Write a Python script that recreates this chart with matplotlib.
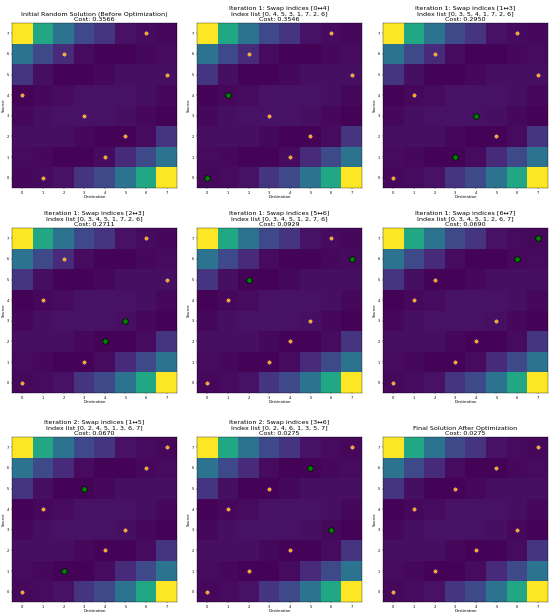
"""Swap-based optimisation of an 8x8 assignment, shown step by step."""

from matplotlib import pyplot as plt
import numpy as np

# cost / weight matrix, rows = source (0 at bottom), cols = destination
cost_matrix = np.array([
    [0.02, 0.03, 0.05, 0.15, 0.22, 0.38, 0.60, 1.00],
    [0.03, 0.02, 0.01, 0.01, 0.03, 0.12, 0.22, 0.38],
    [0.04, 0.04, 0.04, 0.02, 0.01, 0.01, 0.03, 0.15],
    [0.02, 0.04, 0.05, 0.05, 0.05, 0.04, 0.02, 0.01],
    [0.01, 0.02, 0.03, 0.05, 0.05, 0.05, 0.04, 0.02],
    [0.15, 0.04, 0.01, 0.01, 0.02, 0.04, 0.04, 0.04],
    [0.38, 0.22, 0.12, 0.03, 0.01, 0.01, 0.02, 0.03],
    [1.00, 0.60, 0.38, 0.22, 0.15, 0.05, 0.03, 0.02],
])

titles = [
    "Initial Random Solution (Before Optimization)\nCost: 0.3566",
    "Iteration 1: Swap indices [0\u21944]\nIndex list [0, 4, 5, 3, 1, 7, 2, 6]\nCost: 0.3546",
    "Iteration 1: Swap indices [1\u21943]\nIndex list [0, 3, 5, 4, 1, 7, 2, 6]\nCost: 0.2950",
    "Iteration 1: Swap indices [2\u21943]\nIndex list [0, 3, 4, 5, 1, 7, 2, 6]\nCost: 0.2711",
    "Iteration 1: Swap indices [5\u21946]\nIndex list [0, 3, 4, 5, 1, 2, 7, 6]\nCost: 0.0929",
    "Iteration 1: Swap indices [6\u21947]\nIndex list [0, 3, 4, 5, 1, 2, 6, 7]\nCost: 0.0690",
    "Iteration 2: Swap indices [1\u21945]\nIndex list [0, 2, 4, 5, 1, 3, 6, 7]\nCost: 0.0670",
    "Iteration 2: Swap indices [3\u21946]\nIndex list [0, 2, 4, 6, 1, 3, 5, 7]\nCost: 0.0275",
    "Final Solution After Optimization\nCost: 0.0275",
]

# destination chosen for each source row
index_lists = [
    [1, 4, 5, 3, 0, 7, 2, 6],
    [0, 4, 5, 3, 1, 7, 2, 6],
    [0, 3, 5, 4, 1, 7, 2, 6],
    [0, 3, 4, 5, 1, 7, 2, 6],
    [0, 3, 4, 5, 1, 2, 7, 6],
    [0, 3, 4, 5, 1, 2, 6, 7],
    [0, 2, 4, 5, 1, 3, 6, 7],
    [0, 2, 4, 6, 1, 3, 5, 7],
    [0, 2, 4, 6, 1, 3, 5, 7],
]

# swapped source indices per panel (None = no swap)
swaps = [None, (0, 4), (1, 3), (2, 3), (5, 6), (6, 7), (1, 5), (3, 6), None]

fig = plt.figure(figsize=(5.5, 6.15), dpi=100)

col_left = [12 / 550, 197 / 550, 383 / 550]
row_bottom = [1 - 188 / 615, 1 - 393 / 615, 1 - 602 / 615]
w, h = 165 / 550, 165 / 615

for k in range(9):
    ax = fig.add_axes([col_left[k % 3], row_bottom[k // 3], w, h])
    ax.imshow(cost_matrix, cmap="viridis", origin="lower", vmin=0, vmax=1,
              aspect="auto")

    src = np.arange(8)
    dst = np.array(index_lists[k])
    ax.plot(dst, src, "o", ms=2.4, mfc="orange", mec="#ffd9c0", mew=0.3)

    if swaps[k] is not None:
        i, j = swaps[k]
        ax.plot(dst[[i, j]], src[[i, j]], "o", ms=4, mfc="green", mec="black",
                mew=0.5)

    ax.set_title(titles[k], fontsize=4.6, pad=1.5, linespacing=1.1)
    ax.set_xticks(range(8))
    ax.set_yticks(range(8))
    ax.tick_params(labelsize=2.6, length=1, width=0.25, pad=1)
    ax.set_xlabel("Destination", fontsize=2.8, labelpad=0.5)
    ax.set_ylabel("Source", fontsize=2.8, labelpad=0.5)
    for s in ax.spines.values():
        s.set_linewidth(0.25)

fig.savefig("out.png", dpi=100, facecolor="white")
